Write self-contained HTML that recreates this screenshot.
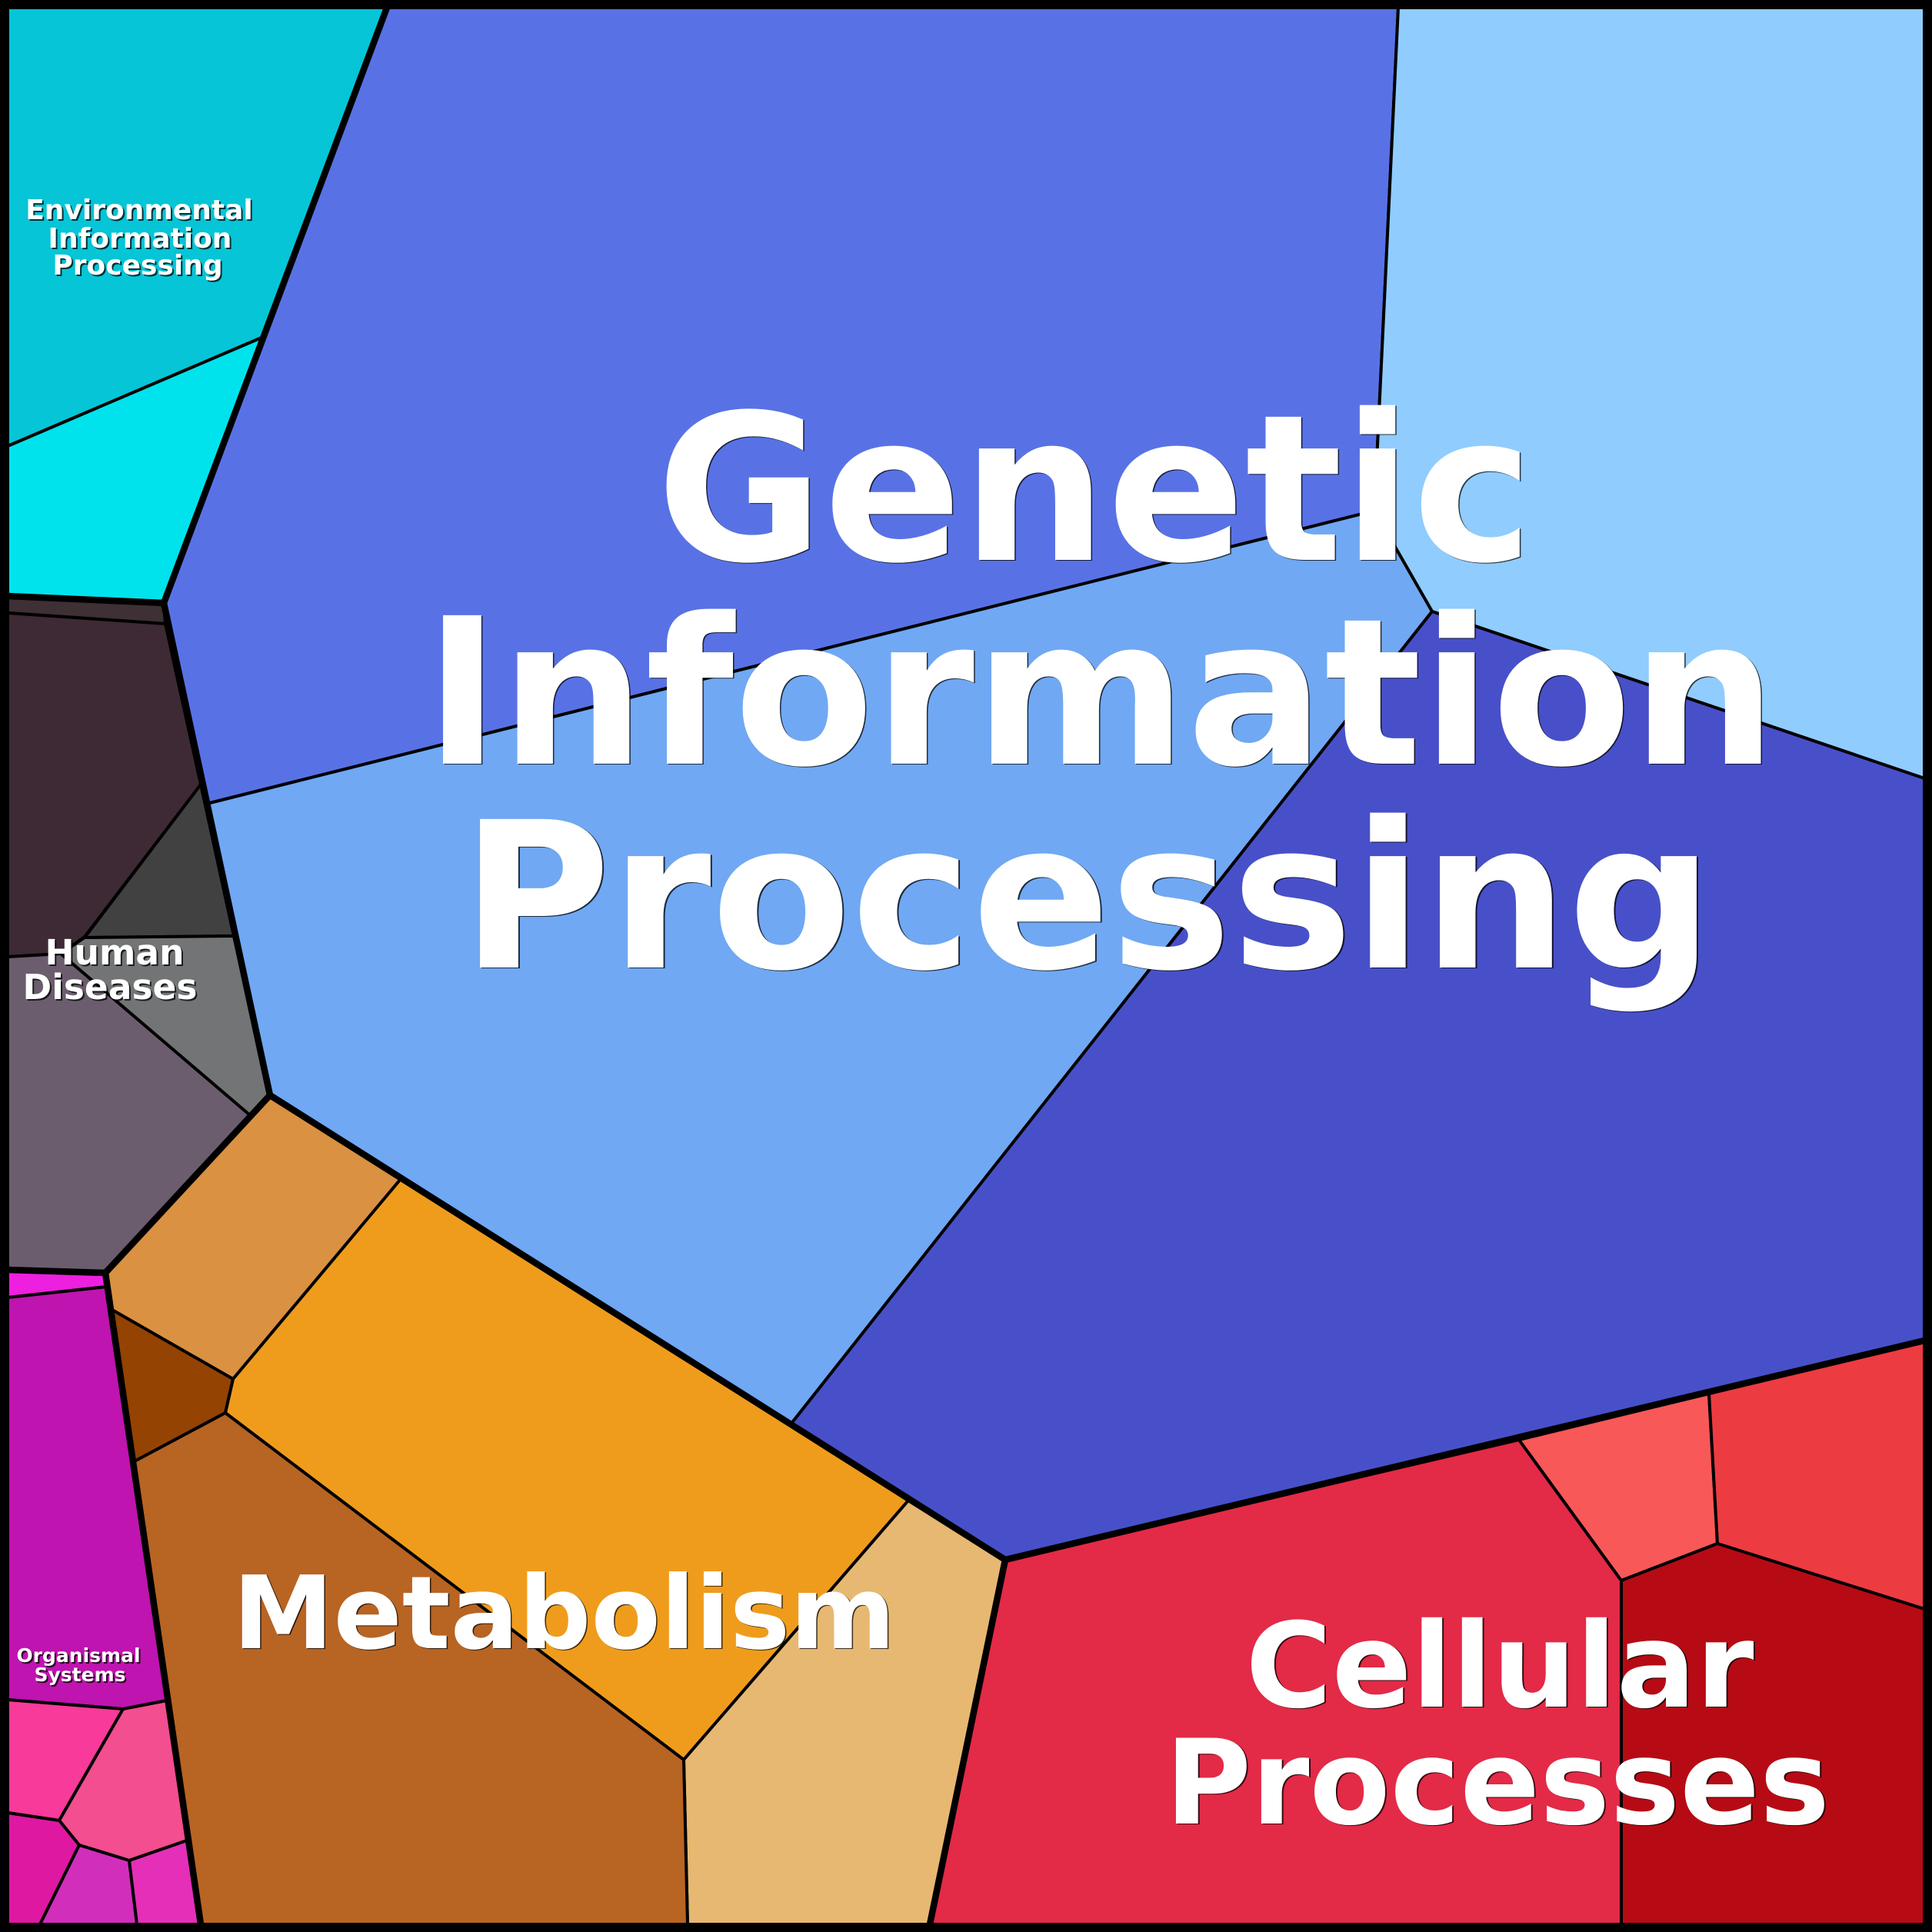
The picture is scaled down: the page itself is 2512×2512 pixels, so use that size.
<!DOCTYPE html>
<html><head><meta charset="utf-8"><style>
html,body{margin:0;padding:0;background:#000}
svg{display:block}
text{font-family:"DejaVu Sans",sans-serif;font-weight:bold;text-anchor:middle}
.s{fill:#000;opacity:.75}
.w{fill:#fff}
</style></head><body>
<svg width="2512" height="2512" viewBox="0 0 2512 2512" xmlns="http://www.w3.org/2000/svg">
<rect width="2512" height="2512" fill="#000"/>
<g stroke="#000" stroke-width="4" stroke-linejoin="round">
<polygon fill="#05c5d7" points="10,10 503,10 340,439 10,580"/>
<polygon fill="#00e3ec" points="10,580 340,439 213,784 10,775"/>
<polygon fill="#5872e6" points="503,10 1818,10 1787,664 269,1045 213,784"/>
<polygon fill="#90ccfe" points="1818,10 2502,10 2502,1012 1862,795 1787,664"/>
<polygon fill="#70a8f3" points="269,1045 1787,664 1862,795 1028,1852 351,1424"/>
<polygon fill="#4850c9" points="1862,795 2502,1012 2502,1743 1307,2028 1028,1852"/>
<polygon fill="#da9142" points="137,1655 351,1424 521,1533 303,1793 144,1702"/>
<polygon fill="#944302" points="144,1702 303,1793 293,1837 173,1901"/>
<polygon fill="#ef9c1c" points="521,1533 1181,1951 889,2288 293,1837 303,1793"/>
<polygon fill="#e7b871" points="1181,1951 1307,2028 1209,2502 894,2502 889,2288"/>
<polygon fill="#b86423" points="293,1837 889,2288 894,2502 261,2502 173,1901"/>
<polygon fill="#e32a47" points="1307,2028 1975,1872 2108,2055 2108,2502 1209,2502"/>
<polygon fill="#f95858" points="1975,1872 2222,1812 2233,2007 2108,2055"/>
<polygon fill="#ed3b42" points="2222,1812 2502,1743 2502,2092 2233,2007"/>
<polygon fill="#b60b14" points="2108,2055 2233,2007 2502,2092 2502,2502 2108,2502"/>
<polygon fill="#3e3034" points="10,775 213,784 215,811 10,797"/>
<polygon fill="#3e2a34" points="10,797 215,811 261,1020 110,1218 79,1240 10,1244"/>
<polygon fill="#424142" points="261,1020 304,1217 110,1219"/>
<polygon fill="#727475" points="110,1219 304,1217 351,1424 325,1450 79,1240"/>
<polygon fill="#6b5d6e" points="10,1244 79,1240 325,1450 137,1655 10,1651"/>
<polygon fill="#ec20de" points="10,1651 137,1655 139,1673 10,1687"/>
<polygon fill="#bf14af" points="10,1687 139,1673 217,2211 160,2222 10,2210"/>
<polygon fill="#f83a9a" points="10,2210 160,2222 77,2367 10,2357"/>
<polygon fill="#f34e8f" points="160,2222 217,2211 243,2393 168,2419 103,2399 77,2367"/>
<polygon fill="#df18a2" points="10,2357 77,2367 103,2399 52,2502 10,2502"/>
<polygon fill="#d12ebc" points="103,2399 168,2419 178,2502 52,2502"/>
<polygon fill="#e52fb9" points="168,2419 243,2393 261,2502 178,2502"/>
</g>
<g fill="none" stroke="#000" stroke-width="8.5" stroke-linejoin="round" stroke-linecap="round">
<polyline points="503,10 213,784 351,1424 1307,2028 2502,1743"/>
<polyline points="10,775 213,784"/>
<polyline points="351,1424 137,1655 261,2502"/>
<polyline points="10,1651 137,1655"/>
<polyline points="1307,2028 1209,2502"/>
</g>
<rect x="6" y="6" width="2500" height="2500" fill="none" stroke="#000" stroke-width="12"/>
<g font-size="36">
<text class="s" x="183" y="287">Environmental</text><text class="w" x="181" y="285">Environmental</text>
<text class="s" x="184" y="324">Information</text><text class="w" x="182" y="322">Information</text>
<text class="s" x="181" y="359">Processing</text><text class="w" x="179" y="357">Processing</text>
</g>
<g font-size="45.5">
<text class="s" x="151" y="1256">Human</text><text class="w" x="149" y="1254">Human</text>
<text class="s" x="145" y="1301">Diseases</text><text class="w" x="143" y="1299">Diseases</text>
</g>
<g font-size="25">
<text class="s" x="104" y="2163">Organismal</text><text class="w" x="102" y="2161">Organismal</text>
<text class="s" x="106" y="2188">Systems</text><text class="w" x="104" y="2186">Systems</text>
</g>
<g font-size="265">
<text class="s" x="1425" y="729">Genetic</text><text class="w" x="1423.5" y="728">Genetic</text>
<text class="s" x="1432.5" y="994">Information</text><text class="w" x="1431" y="993">Information</text>
<text class="s" x="1416" y="1259">Processing</text><text class="w" x="1414" y="1258">Processing</text>
</g>
<g font-size="131.5">
<text class="s" x="735" y="2144">Metabolism</text><text class="w" x="733.5" y="2143">Metabolism</text>
</g>
<g font-size="153">
<text class="s" x="1952" y="2220">Cellular</text><text class="w" x="1950" y="2219">Cellular</text>
<text class="s" x="1949" y="2372">Processes</text><text class="w" x="1947" y="2371">Processes</text>
</g>
</svg>
</body></html>
